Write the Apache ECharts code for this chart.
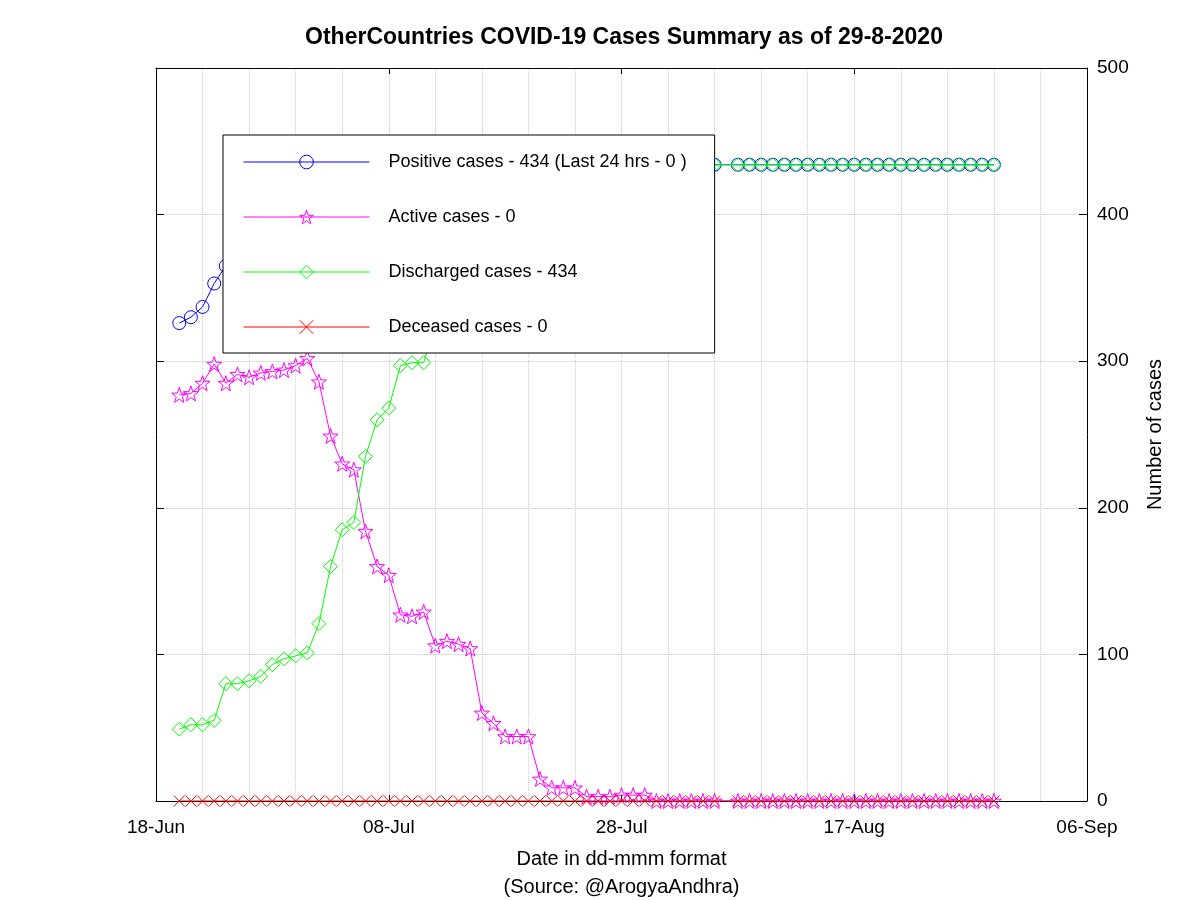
<!DOCTYPE html>
<html>
<head>
<meta charset="utf-8">
<script src="https://cdn.jsdelivr.net/npm/echarts@6/dist/echarts.min.js"></script>
<style>html,body{margin:0;padding:0;background:#fff}#c{width:1200px;height:900px}</style>
</head>
<body>
<div id="c"></div>
<script>
const dates = [
'2020-06-20','2020-06-21','2020-06-22','2020-06-23','2020-06-24','2020-06-25','2020-06-26','2020-06-27','2020-06-28','2020-06-29','2020-06-30',
'2020-07-01','2020-07-02','2020-07-03','2020-07-04','2020-07-05','2020-07-06','2020-07-07','2020-07-08','2020-07-09','2020-07-10',
'2020-07-11','2020-07-12','2020-07-13','2020-07-14','2020-07-15','2020-07-16','2020-07-17','2020-07-18','2020-07-19','2020-07-20',
'2020-07-21','2020-07-22','2020-07-23','2020-07-24','2020-07-25','2020-07-26','2020-07-27','2020-07-28','2020-07-29','2020-07-30','2020-07-31',
'2020-08-01','2020-08-02','2020-08-03','2020-08-04','2020-08-05',
'2020-08-07','2020-08-08','2020-08-09','2020-08-10','2020-08-11','2020-08-12','2020-08-13','2020-08-14','2020-08-15','2020-08-16',
'2020-08-17','2020-08-18','2020-08-19','2020-08-20','2020-08-21','2020-08-22','2020-08-23','2020-08-24','2020-08-25','2020-08-26',
'2020-08-27','2020-08-28','2020-08-29'
];
const positive = [326,330,337,353,365,371,371,377,386,391,396,403,407,409,415,416,419,420,422,424,425,428,430,431,431,432,432,433,433,
434,434,434,434,434,434,434,434,434,434,434,434,434,434,434,434,434,434,
434,434,434,434,434,434,434,434,434,434,434,434,434,434,434,434,434,434,434,434,434,434,434];
const active = [277,278,285,298,285,291,289,292,293,294,297,302,286,249,230,226,184,160,154,127,126,129,106,109,107,104,60,53,44,44,44,15,9,9,9,3,3,3,4,4,4,
0,0,0,0,0,0,
0,0,0,0,0,0,0,0,0,0,0,0,0,0,0,0,0,0,0,0,0,0,0];
const discharged = [49,52,52,55,80,80,82,85,93,97,99,101,121,160,185,190,235,260,268,297,299,299,324,322,324,328,372,380,389,390,390,419,425,425,425,431,431,431,430,430,430,
434,434,434,434,434,434,
434,434,434,434,434,434,434,434,434,434,434,434,434,434,434,434,434,434,434,434,434,434,434];
const deceased = [0,0,0,0,0,0,0,0,0,0,0,0,0,0,0,0,0,0,0,0,0,0,0,0,0,0,0,0,0,0,0,0,0,0,0,0,0,0,0,0,0,
0,0,0,0,0,0,
0,0,0,0,0,0,0,0,0,0,0,0,0,0,0,0,0,0,0,0,0,0,0];
const xTickLabels = ['18-Jun','08-Jul','28-Jul','17-Aug','06-Sep'];
const yTickLabels = ['0','100','200','300','400','500'];
const legendNames = ['Positive cases - 434 (Last 24 hrs - 0 )','Active cases - 0','Discharged cases - 434','Deceased cases - 0'];
const startDate = Date.UTC(2020,5,18);

function dayOf(s){const p=s.split('-');return Math.round((Date.UTC(+p[0],+p[1]-1,+p[2])-startDate)/86400000);}
function pairs(vals){return dates.map((d,i)=>[dayOf(d),vals[i]]);}
// star outline drawn as separate segments so it never fills
function starPath(){
  const pts=[];
  for(let i=0;i<10;i++){
    const r=(i%2===0)?50:20;
    const a=-Math.PI/2+i*Math.PI/5;
    pts.push((50+r*Math.cos(a)).toFixed(2)+','+(50+r*Math.sin(a)).toFixed(2));
  }
  let s='path://';
  for(let i=0;i<10;i++){ s+='M'+pts[i]+'L'+pts[(i+1)%10]; }
  return s;
}
const STAR = starPath();
const XMARK = 'path://M0,0L10,10M10,0L0,10';
const FONT='"Liberation Sans", Arial, sans-serif';
const colors = ['#0000ff','#ff00ff','#00ff00','#ff0000'];
const symbols = ['circle',STAR,'diamond',XMARK];
function mk(i,vals,size,z){
  return {name:legendNames[i],type:'line',data:pairs(vals),symbol:symbols[i],symbolSize:size,z:z,
    showAllSymbol:true,
    lineStyle:{color:colors[i],width:1},
    itemStyle:{color:'transparent',borderColor:colors[i],borderWidth:1},
    emphasis:{disabled:true},animation:false};
}
const chart = echarts.init(document.getElementById('c'));
chart.setOption({
  backgroundColor:'#fff',
  animation:false,
  title:{text:'OtherCountries COVID-19 Cases Summary as of 29-8-2020',left:619,top:21,textAlign:'center',
    textStyle:{fontFamily:FONT,fontSize:23,fontWeight:'bold',color:'#000'}},
  grid:{left:156,right:113,top:68,bottom:99,containLabel:false,outerBoundsMode:'none'},
  legend:{orient:'vertical',left:223,top:135,padding:[18,28,17,20],itemWidth:126,itemHeight:17,itemGap:37,
    backgroundColor:'#fff',borderColor:'#000',borderWidth:1,borderRadius:0,
    itemStyle:{color:'transparent',borderWidth:1},
    lineStyle:{width:1},
    textStyle:{fontFamily:FONT,fontSize:18,color:'#000',padding:[0,0,0,14]},
    data:legendNames,
    selectedMode:false,z:10},
  xAxis:[
    {type:'value',min:0,max:80,interval:20,position:'bottom',
     axisLine:{show:true,onZero:false,lineStyle:{color:'#000',width:1}},
     axisTick:{show:true,inside:true,length:6,lineStyle:{color:'#000'}},
     axisLabel:{color:'#000',fontFamily:FONT,fontSize:19,margin:17,formatter:v=>xTickLabels[Math.round(v/20)]},
     splitLine:{show:true,lineStyle:{color:'#cfcfcf',type:'dotted',width:1}},
     minorTick:{show:false,splitNumber:5},
     minorSplitLine:{show:true,lineStyle:{color:'#cfcfcf',type:'dotted',width:1}},
     name:'Date in dd-mmm format\n(Source: @ArogyaAndhra)',nameLocation:'middle',nameGap:44,
     nameTextStyle:{color:'#000',fontFamily:FONT,fontSize:20,lineHeight:28}},
    {type:'value',min:0,max:80,interval:20,position:'top',
     axisLine:{show:true,onZero:false,lineStyle:{color:'#000',width:1}},
     axisTick:{show:true,inside:true,length:6,lineStyle:{color:'#000'}},
     axisLabel:{show:false},splitLine:{show:false}}
  ],
  yAxis:[
    {type:'value',min:0,max:500,interval:100,position:'right',
     axisLine:{show:true,onZero:false,lineStyle:{color:'#000',width:1}},
     axisTick:{show:true,inside:true,length:8,lineStyle:{color:'#000'}},
     axisLabel:{color:'#000',fontFamily:FONT,fontSize:19,margin:10,formatter:v=>yTickLabels[Math.round(v/100)]},
     splitLine:{show:true,lineStyle:{color:'#e0e0e0',width:1}},
     name:'Number of cases',nameLocation:'middle',nameRotate:90,nameGap:58,
     nameTextStyle:{color:'#000',fontFamily:FONT,fontSize:20}},
    {type:'value',min:0,max:500,interval:100,position:'left',
     axisLine:{show:true,onZero:false,lineStyle:{color:'#000',width:1}},
     axisTick:{show:true,inside:true,length:8,lineStyle:{color:'#000'}},
     axisLabel:{show:false},splitLine:{show:false}}
  ],
  series:[
    mk(0,positive,13,2),
    mk(1,active,15,3),
    mk(2,discharged,14,4),
    mk(3,deceased,11,5)
  ]
});
</script>
</body>
</html>
